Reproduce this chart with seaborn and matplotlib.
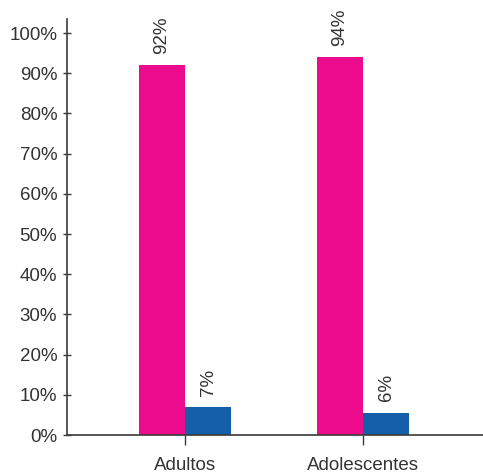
import seaborn as sns
import pandas as pd
import matplotlib.pyplot as plt

groups = ['Adultos', 'Adolescentes']
series = ['A', 'B']
values_a = [92, 94]
values_b = [7, 5.6]
labels_a = ['92%', '94%']
labels_b = ['7%', '6%']
y_ticks = [0, 10, 20, 30, 40, 50, 60, 70, 80, 90, 100]

pink = '#EC0B8C'
blue = '#1460A8'
axis_color = '#3a3a3a'

df = pd.DataFrame({
    'grupo': groups * 2,
    'serie': [series[0]] * 2 + [series[1]] * 2,
    'valor': values_a + values_b,
})

sns.set_style('white')
plt.rcParams['font.family'] = ['Liberation Sans', 'DejaVu Sans']

fig = plt.figure(figsize=(4.83, 4.73), dpi=100)
ax = fig.add_axes([0.1387, 0.0803, 0.8613, 0.8795])

sns.barplot(data=df, x='grupo', y='valor', hue='serie', order=groups,
            hue_order=series, palette=[pink, blue], width=0.52,
            saturation=1, legend=False, linewidth=0, ax=ax)

# rotated value labels above each bar
for cont, labs in zip(ax.containers, [labels_a, labels_b]):
    ax.bar_label(cont, labels=labs, rotation=90, padding=8,
                 fontsize=13.5, color='#333333')

ax.set_xlim(-0.663, 1.674)
ax.set_ylim(0, 103.5)
ax.set_yticks(y_ticks)
ax.set_yticklabels([f'{t}%' for t in y_ticks])
ax.set_xlabel('')
ax.set_ylabel('')

for side in ['top', 'right']:
    ax.spines[side].set_visible(False)
for side in ['left', 'bottom']:
    ax.spines[side].set_color(axis_color)
    ax.spines[side].set_linewidth(1.2)

ax.tick_params(axis='y', direction='inout', length=6, width=1,
               color=axis_color, labelsize=13.5, labelcolor='#333333', pad=4)
ax.tick_params(axis='x', direction='out', length=7, width=1,
               color=axis_color, labelsize=13.5, labelcolor='#333333', pad=9)
ax.tick_params(left=True, bottom=True)

plt.savefig('out.png', dpi=100)
